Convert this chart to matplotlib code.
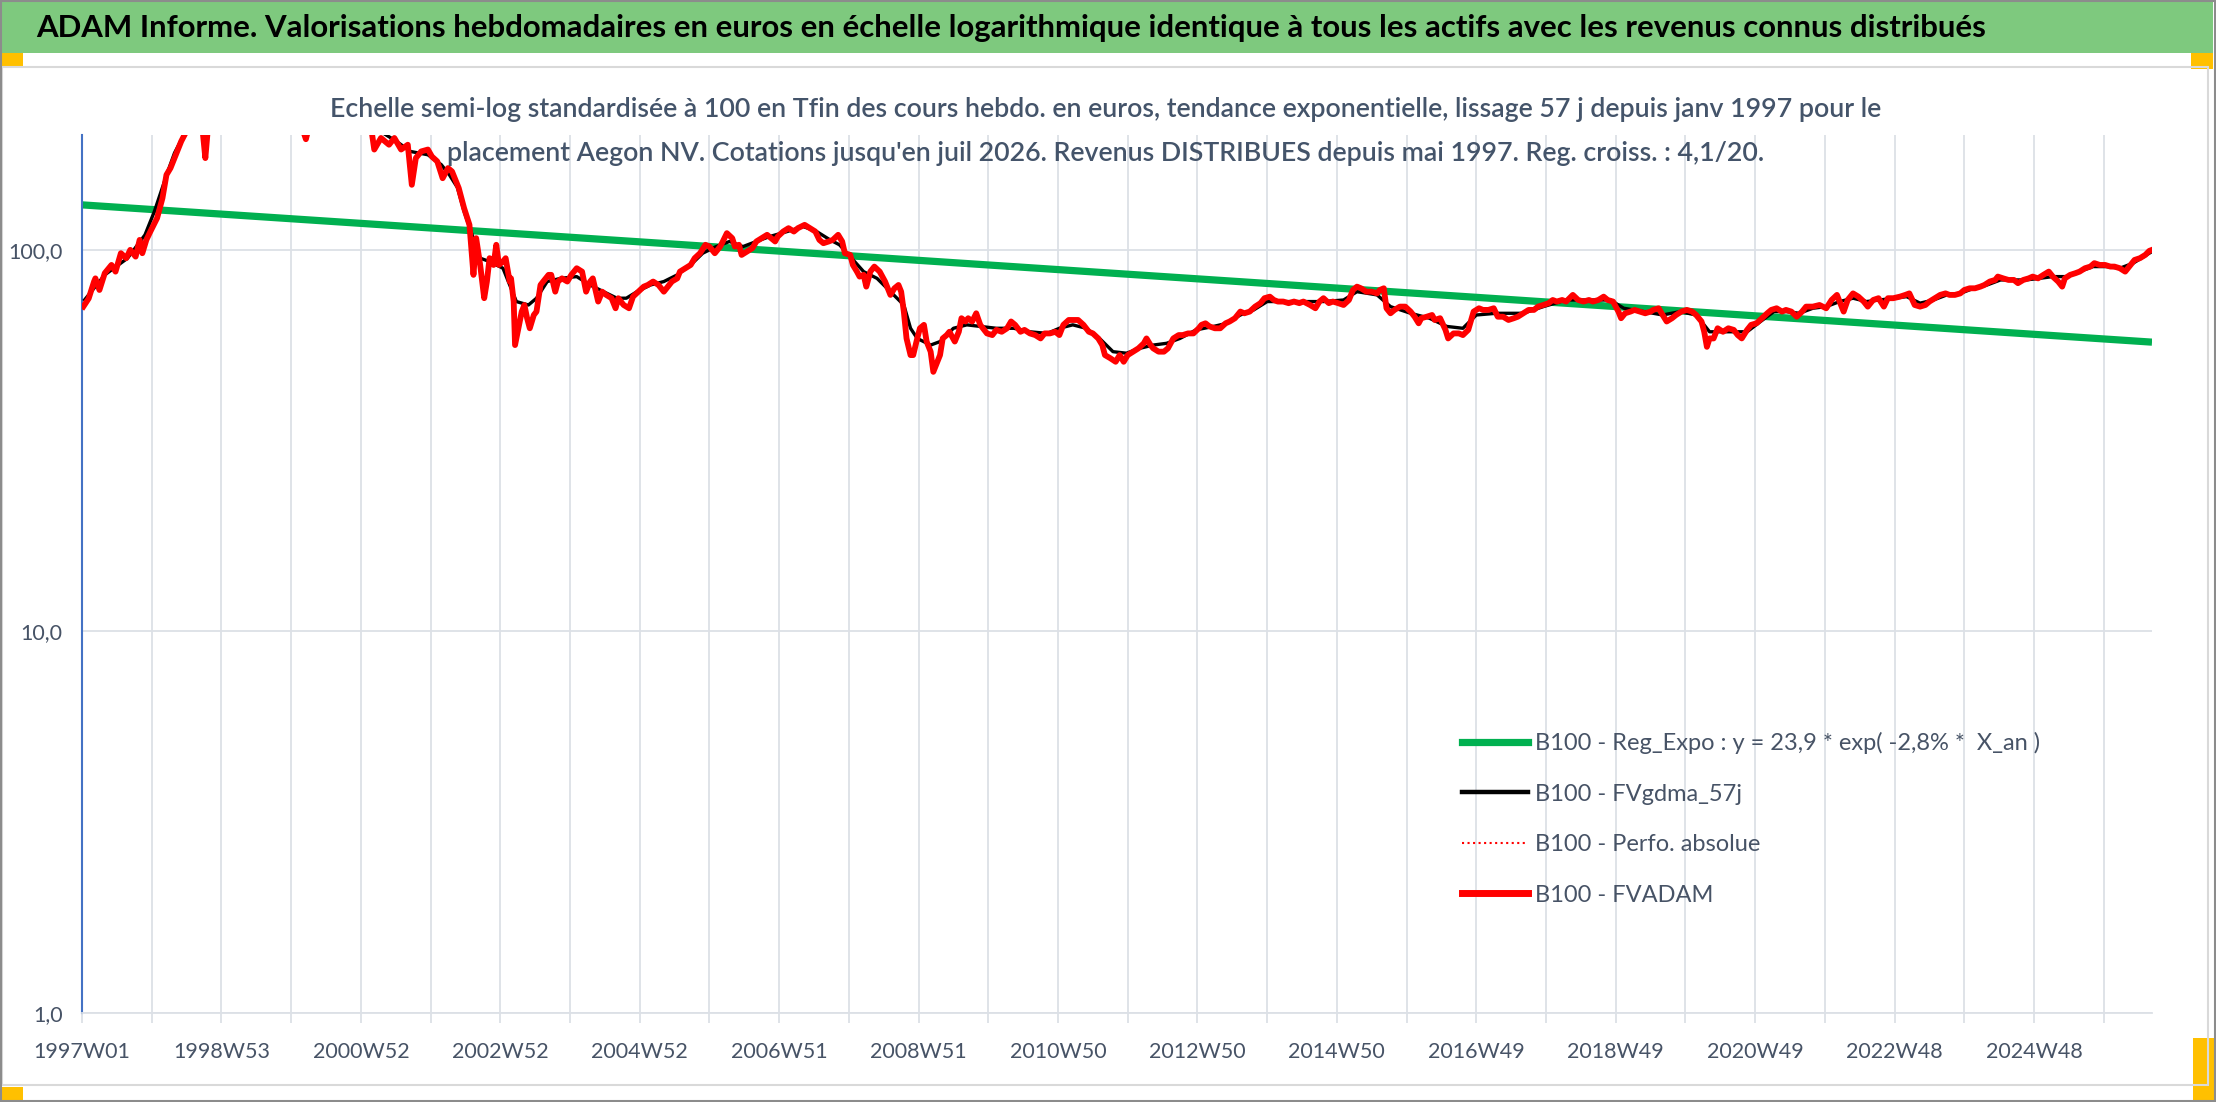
import matplotlib
matplotlib.use("Agg")
import matplotlib.pyplot as plt
from matplotlib.lines import Line2D
from matplotlib.patches import Rectangle
import numpy as np

plt.rcParams['font.family'] = ['Lato', 'DejaVu Sans']

# ---------------- DATA ----------------
title_text = ("ADAM Informe. Valorisations hebdomadaires en euros en échelle logarithmique "
              "identique à tous les actifs avec les revenus connus distribués")
subtitle_l1 = ("Echelle semi-log standardisée à 100 en Tfin des cours hebdo. en euros, tendance "
               "exponentielle, lissage 57 j depuis janv 1997 pour le")
subtitle_l2 = ("placement Aegon NV. Cotations jusqu'en juil 2026. Revenus DISTRIBUES depuis mai 1997. "
               "Reg. croiss. : 4,1/20.")

legend_labels = ["B100 - Reg_Expo : y = 23,9 * exp( -2,8% *  X_an )",
                 "B100 - FVgdma_57j",
                 "B100 - Perfo. absolue",
                 "B100 - FVADAM"]

tick_labels = ["1997W01", "1998W53", "2000W52", "2002W52", "2004W52", "2006W51", "2008W51",
               "2010W50", "2012W50", "2014W50", "2016W49", "2018W49", "2020W49", "2022W48", "2024W48"]
tick_label_weeks = [0, 104, 208, 312, 416, 520, 624, 728, 832, 936, 1040, 1144, 1248, 1352, 1456]
n_weeks = 1545

y_ticks = [1, 10, 100]
y_tick_labels = ["1,0", "10,0", "100,0"]

# exponential regression (endpoints)
reg_weeks = [0, 1544]
reg_vals = [131.2, 57.3]

# FVADAM weekly values (week index, value)
red_weeks = [1, 5, 9, 10, 13, 17, 22, 25, 29, 33, 36, 40, 43, 45, 48, 51, 56, 60, 63, 66, 70, 74,
             78, 82, 87, 90, 92, 94, 100, 110, 120, 130, 140, 150, 158, 164, 167, 170, 180, 190, 200,
             210, 216, 218, 223, 229, 233, 238, 243, 246, 249, 253, 258, 261, 265, 269, 273, 276,
             281, 285, 289, 292, 294, 297, 300, 302, 304, 307, 309, 311, 314, 316, 319, 320, 322,
             323, 325, 328, 330, 332, 334, 337, 339, 342, 344, 348, 350, 353, 355, 358, 362, 365,
             369, 373, 376, 379, 381, 385, 388, 391, 395, 398, 400, 404, 408, 411, 415, 419, 422,
             426, 430, 434, 436, 440, 444, 446, 450, 454, 457, 461, 465, 468, 472, 476, 478, 481,
             485, 487, 490, 492, 496, 500, 503, 507, 511, 514, 517, 519, 523, 527, 531, 534, 539,
             543, 547, 550, 553, 557, 560, 564, 567, 569, 573, 575, 578, 580, 583, 585, 588, 591,
             595, 599, 603, 606, 609, 611, 613, 615, 618, 620, 623, 625, 628, 630, 633, 635, 638,
             640, 642, 645, 647, 651, 654, 656, 659, 661, 664, 667, 670, 672, 675, 679, 682, 686,
             690, 693, 696, 700, 703, 707, 711, 715, 718, 722, 726, 729, 732, 736, 739, 743, 747,
             751, 754, 758, 761, 763, 767, 771, 774, 777, 780, 784, 788, 792, 794, 797, 799, 803,
             807, 810, 814, 818, 821, 825, 829, 833, 835, 838, 841, 845, 849, 853, 856, 860, 864,
             867, 871, 875, 879, 882, 886, 889, 892, 896, 900, 904, 908, 911, 916, 920, 923, 926,
             930, 933, 937, 941, 945, 948, 951, 954, 958, 962, 966, 968, 971, 973, 976, 979, 983,
             987, 991, 994, 997, 999, 1003, 1007, 1009, 1013, 1017, 1019, 1023, 1027, 1030, 1034,
             1038, 1042, 1045, 1049, 1053, 1056, 1060, 1064, 1068, 1071, 1075, 1079, 1083, 1086,
             1090, 1094, 1097, 1100, 1104, 1107, 1112, 1116, 1120, 1124, 1127, 1131, 1135, 1138,
             1142, 1146, 1148, 1151, 1155, 1158, 1162, 1166, 1170, 1172, 1176, 1179, 1182, 1186,
             1189, 1193, 1197, 1201, 1204, 1208, 1210, 1212, 1214, 1217, 1220, 1224, 1228, 1232,
             1235, 1238, 1242, 1245, 1249, 1253, 1257, 1260, 1264, 1268, 1271, 1275, 1279, 1283,
             1286, 1291, 1296, 1301, 1305, 1309, 1311, 1314, 1317, 1321, 1325, 1329, 1332, 1336,
             1340, 1344, 1347, 1351, 1356, 1360, 1363, 1367, 1371, 1375, 1378, 1382, 1386, 1390,
             1393, 1397, 1401, 1404, 1408, 1412, 1416, 1419, 1423, 1427, 1429, 1433, 1437, 1441,
             1444, 1448, 1452, 1455, 1459, 1463, 1467, 1470, 1474, 1477, 1479, 1483, 1487, 1490,
             1494, 1498, 1501, 1505, 1509, 1513, 1516, 1520, 1524, 1528, 1531, 1535, 1539, 1542,
             1544]
red_vals = [71.0, 74.6, 82.6, 84.2, 78.5, 86.9, 91.3, 87.7, 98.0, 95.1, 100.0, 96.0, 106.2, 98.0,
            106.2, 111.7, 121.1, 136.6, 157.3, 163.8, 177.5, 192.5,
            205, 225, 240, 205, 174, 210, 250, 270, 290, 280, 300, 270, 235, 210, 195, 215, 250, 270,
            250, 225, 205, 183.2, 196.4, 188.6, 196.4, 183.2, 188.6, 148.1, 174.0, 181.1, 183.2,
            175.6, 170.5, 154.1, 163.8, 160.5, 145.2, 128.6, 116.3, 86.0, 107.3, 91.3, 74.7, 82.6,
            95.1, 91.3, 103.1, 91.3, 93.2, 95.1, 82.6, 84.2, 73.2, 56.3, 61.0, 68.9, 71.7, 66.2, 62.3,
            67.5, 68.9, 80.9, 82.6, 86.0, 86.0, 77.7, 82.6, 84.2, 82.6, 86.0, 89.5, 87.7, 77.7, 82.6,
            84.2, 73.2, 77.7, 76.2, 74.7, 70.3, 74.7, 71.7, 70.3, 75.4, 77.7, 80.1, 80.9, 82.6, 80.9,
            77.7, 79.3, 82.6, 84.2, 87.7, 89.5, 91.3, 95.1, 98.0, 103.1, 102.0, 98.0, 102.0, 105.2,
            110.6, 107.3, 102.0, 103.1, 97.0, 99.0, 101.0, 105.2, 107.3, 109.5, 107.3, 105.2, 108.4,
            111.7, 114.0, 111.7, 114.0, 116.3, 114.0, 111.7, 106.2, 104.1, 105.2, 106.2, 109.5,
            105.2, 98.0, 97.0, 91.3, 87.7, 85.1, 86.0, 80.1, 87.7, 90.4, 87.7, 82.6, 76.2, 79.3,
            80.9, 77.7, 68.9, 58.6, 53.0, 53.0, 58.6, 62.3, 63.6, 57.5, 54.1, 47.9, 50.9, 53.0, 58.6,
            59.8, 61.0, 57.5, 61.0, 66.2, 64.9, 66.2, 64.9, 68.2, 63.6, 62.3, 60.4, 59.8, 61.7, 61.0,
            62.3, 64.9, 63.6, 61.0, 61.7, 60.4, 59.8, 58.6, 60.4, 60.4, 61.0, 59.8, 63.6, 65.5, 65.5,
            65.5, 63.6, 61.0, 60.4, 58.6, 56.3, 53.0, 52.0, 50.9, 53.0, 50.9, 53.0, 54.1, 55.2, 56.9,
            58.6, 56.3, 55.2, 54.1, 54.1, 55.2, 58.6, 59.8, 59.8, 60.4, 60.4, 62.3, 63.6, 64.2, 63.0,
            62.3, 62.3, 64.2, 64.9, 66.2, 68.9, 68.2, 68.9, 71.0, 72.5, 74.7, 75.4, 73.9, 73.2, 73.2,
            72.5, 73.2, 72.5, 73.2, 71.7, 70.3, 73.2, 74.7, 72.5, 73.2, 72.5, 71.7, 73.9, 78.5, 80.1,
            79.3, 77.7, 77.7, 76.9, 78.5, 79.3, 70.3, 68.2, 69.6, 71.0, 71.0, 68.9, 66.8, 64.2, 66.2,
            66.8, 67.5, 65.5, 66.2, 61.7, 58.6, 60.4, 60.4, 59.8, 61.7, 68.9, 70.3, 69.6, 69.6, 70.3,
            66.8, 66.8, 65.5, 66.2, 66.8, 68.2, 69.6, 69.6, 71.0, 71.7, 72.5, 73.9, 73.2, 73.9, 73.2,
            76.2, 73.9, 73.2, 73.9, 73.2, 73.9, 75.4, 73.9, 73.2, 68.9, 66.2, 68.2, 68.9, 69.6, 68.9,
            68.2, 68.9, 69.6, 70.3, 67.5, 64.9, 66.2, 67.5, 68.9, 69.6, 68.9, 67.5, 64.9, 61.0, 55.7,
            58.6, 58.6, 62.3, 61.0, 62.3, 61.7, 59.8, 58.6, 61.7, 63.6, 64.2, 66.2, 68.2, 69.6, 70.3,
            68.9, 69.6, 68.9, 66.8, 68.9, 71.0, 71.0, 71.7, 70.3, 73.9, 76.2, 73.2, 68.9, 73.9, 76.9,
            75.4, 73.2, 71.0, 73.9, 74.7, 71.0, 74.7, 74.7, 75.4, 76.2, 76.9, 71.7, 71.0, 71.7, 73.2,
            74.7, 76.2, 76.9, 76.2, 76.2, 76.9, 78.5, 79.3, 79.3, 80.1, 80.9, 82.6, 83.4, 85.1, 84.2,
            83.4, 83.4, 81.8, 83.4, 84.2, 85.1, 84.2, 86.0, 87.7, 85.1, 82.6, 80.1, 84.2, 86.0, 86.9,
            87.7, 89.5, 90.4, 92.3, 91.3, 91.3, 90.4, 90.4, 89.5, 87.7, 91.3, 94.1, 95.1, 97.0, 99.4,
            100.0]

# FVgdma_57j smoothed values (week index, value)
black_weeks = [2, 17, 34, 47, 54, 59, 64, 69, 76, 90, 110, 130, 150, 170, 190, 210, 222, 235, 245,
               258, 268, 274, 280, 285, 291, 297, 304, 314, 324, 333, 339, 347, 357, 369, 379, 389,
               399, 406, 414, 424, 434, 444, 454, 463, 473, 483, 493, 503, 513, 526, 538, 548, 558,
               565, 573, 583, 593, 603, 613, 618, 623, 633, 640, 650, 660, 670, 682, 695, 707, 720,
               729, 739, 749, 759, 769, 779, 789, 799, 809, 819, 831, 844, 854, 864, 874, 884, 894,
               908, 916, 926, 941, 951, 966, 976, 991, 1005, 1018, 1030, 1040, 1055, 1075, 1090,
               1107, 1125, 1140, 1150, 1165, 1179, 1192, 1204, 1214, 1222, 1232, 1242, 1252, 1262,
               1271, 1281, 1291, 1301, 1311, 1321, 1331, 1341, 1351, 1361, 1371, 1381, 1391, 1401,
               1411, 1421, 1431, 1441, 1450, 1460, 1470, 1480, 1490, 1500, 1510, 1520, 1530, 1540,
               1544]
black_vals = [74.0, 86.0, 95.1, 109.5, 126.1, 142.2, 160.5, 179.4, 200, 225, 255, 280, 275, 240,
              255, 240, 205, 192, 181.1, 177.5, 167.2, 157.3, 145.7, 126.1, 109.5, 95.1, 93.2, 89.5,
              73.2, 71.7, 74.7, 82.6, 84.2, 85.1, 80.9, 77.7, 74.7, 74.7, 77.7, 80.9, 82.6, 86.0,
              91.3, 98.0, 102.0, 105.2, 102.0, 105.2, 108.4, 111.7, 115.1, 111.7, 106.2, 103.1,
              96.0, 87.7, 84.2, 77.7, 71.7, 62.3, 58.6, 56.3, 57.5, 62.3, 63.6, 63.0, 62.3, 62.3,
              61.0, 60.4, 62.3, 63.6, 62.3, 58.6, 54.1, 53.6, 55.2, 56.3, 56.9, 58.6, 61.7, 63.0,
              64.2, 67.5, 69.6, 73.2, 73.2, 73.2, 73.2, 73.2, 73.9, 77.7, 76.2, 71.0, 68.2, 66.2,
              63.0, 62.3, 67.5, 68.2, 68.2, 71.0, 73.9, 73.9, 73.9, 70.3, 68.9, 67.5, 68.9, 67.5,
              61.0, 61.0, 61.0, 61.0, 64.9, 68.9, 68.9, 68.2, 70.3, 71.0, 73.2, 74.7, 73.2, 73.9,
              74.7, 75.4, 72.5, 73.9, 76.2, 76.9, 79.3, 80.9, 83.4, 83.4, 83.4, 84.2, 85.1, 85.1,
              87.7, 90.4, 90.4, 89.5, 92.3, 97.0, 99.0]

# ---------------- FIGURE ----------------
W, H = 2216, 1102
fig = plt.figure(figsize=(W / 100, H / 100), dpi=100)
fig.patch.set_facecolor('white')


def fx(px):
    return px / W


def fy(py):
    return 1 - py / H


# title band and decorations
fig.patches.append(Rectangle((0, fy(53)), fx(2213), 53 / H, transform=fig.transFigure,
                             facecolor='#7EC97E', edgecolor='none', zorder=0))
for (x0, y0, w, h) in [(0, 53, 23, 13), (2191, 53, 22, 16), (0, 1087, 23, 13), (2193, 1038, 23, 64)]:
    fig.patches.append(Rectangle((fx(x0), fy(y0 + h)), w / W, h / H, transform=fig.transFigure,
                                 facecolor='#FFC000', edgecolor='none', zorder=1))
fig.patches.append(Rectangle((fx(2), fy(1085)), fx(2206), (1085 - 67) / H, transform=fig.transFigure,
                             facecolor='none', edgecolor='#D9D9D9', linewidth=1.5, zorder=1))
fig.patches.append(Rectangle((0.0005, 0.0008), 0.999, 0.9985, transform=fig.transFigure,
                             facecolor='none', edgecolor='#8C8C8C', linewidth=1.5, zorder=2))

renderer = fig.canvas.get_renderer()


def fit_text(x, y, s, target_w, size0, **kw):
    t = fig.text(x, y, s, fontsize=size0, **kw)
    w = t.get_window_extent(renderer).width
    t.set_fontsize(size0 * target_w / w)
    return t


fit_text(fx(36), fy(28), title_text, 1952, 24, ha='left', va='center',
         fontweight='bold', color='black')
st = fit_text(fx(1106), fy(110), subtitle_l1, 1561, 18, ha='center', va='center',
              fontweight='semibold', color='#44546A')
fig.text(fx(1106), fy(153), subtitle_l2, fontsize=st.get_fontsize(), ha='center', va='center',
         fontweight='semibold', color='#44546A')

# axes
ax = fig.add_axes([fx(82), fy(1013), (2152 - 82) / W, (1013 - 135) / H])
ax.set_yscale('log')
ax.set_ylim(1, 200)
ax.set_xlim(0, n_weeks - 1)

ax.plot(reg_weeks, reg_vals, color='#00B050', linewidth=5.2, solid_capstyle='butt', zorder=2)
ax.plot(black_weeks, black_vals, color='black', linewidth=2.4, zorder=3)
ax.plot(red_weeks, red_vals, color='#FF0000', linewidth=1.0, linestyle=':', zorder=3.5)
ax.plot(red_weeks, red_vals, color='#FF0000', linewidth=4.2, zorder=4, solid_joinstyle='round')

# grid & ticks
grid_weeks = list(range(0, n_weeks, 52))
ax.set_xticks(grid_weeks)
lab_map = dict(zip(tick_label_weeks, tick_labels))
ax.set_xticklabels([lab_map.get(w, "") for w in grid_weeks])
ax.set_yticks(y_ticks)
ax.set_yticklabels(y_tick_labels)
ax.yaxis.set_minor_locator(matplotlib.ticker.NullLocator())
ax.grid(True, which='major', axis='both', color='#DCE0E6', linewidth=1.3, zorder=0)
ax.set_axisbelow(True)
ax.tick_params(axis='x', length=7, width=1.3, color='#DCE0E6', labelsize=15.5,
               labelcolor='#475366', pad=14)
ax.tick_params(axis='y', length=0, labelsize=15.5, labelcolor='#475366', pad=14)
for s in ['top', 'right']:
    ax.spines[s].set_visible(False)
ax.spines['bottom'].set_color('#DCE0E6')
ax.spines['bottom'].set_linewidth(1.3)
ax.spines['left'].set_color('#4472C4')
ax.spines['left'].set_linewidth(1.5)

handles = [Line2D([], [], color='#00B050', linewidth=5.2),
           Line2D([], [], color='black', linewidth=3.2),
           Line2D([], [], color='#FF0000', linewidth=1.5, linestyle=':'),
           Line2D([], [], color='#FF0000', linewidth=5.0)]
leg = fig.legend(handles, legend_labels, loc='upper left',
                 bbox_to_anchor=(fx(1462), fy(732)), frameon=False, fontsize=17,
                 handlelength=2.8, handletextpad=0.3, labelspacing=1.25,
                 borderpad=0, borderaxespad=0)
for t in leg.get_texts():
    t.set_color('#475366')

fig.savefig('out.png', dpi=100)
